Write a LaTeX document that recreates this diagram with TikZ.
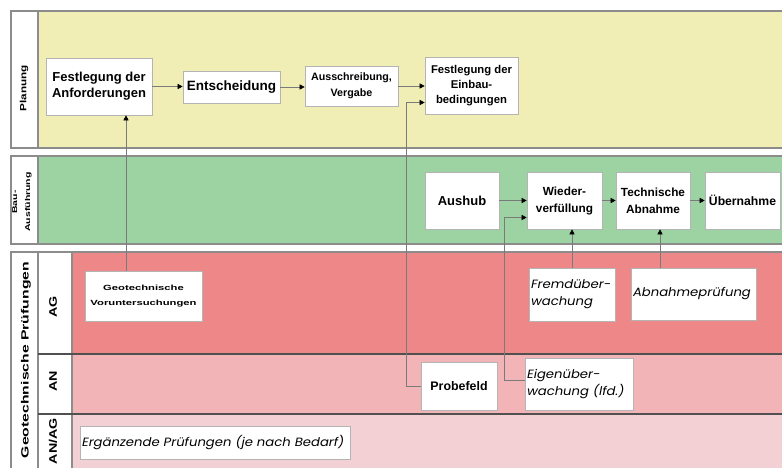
\documentclass[tikz,border=0pt]{standalone}
\usepackage{fontspec}
\setmainfont{Liberation Sans}
\newfontfamily\gothic[FakeStretch=1.1]{Poppins}
\newfontfamily\widesf[FakeStretch=1.5]{Liberation Sans}
\newfontfamily\midsf[FakeStretch=1.3]{Liberation Sans}
\usetikzlibrary{arrows.meta,calc}
\definecolor{plan}{HTML}{F0EEB4}
\definecolor{bau}{HTML}{9DD3A3}
\definecolor{agc}{HTML}{EE8787}
\definecolor{anc}{HTML}{F2B4B6}
\definecolor{anagc}{HTML}{F3D0D4}
\definecolor{bandline}{HTML}{8C8C8C}
\definecolor{rowline}{HTML}{505050}
\definecolor{boxline}{HTML}{B4B4B4}
\definecolor{connc}{HTML}{7A7A7A}
\tikzset{
  box/.style={draw=boxline, line width=0.6pt, fill=white, inner sep=1pt, align=center, anchor=center},
  bbox/.style={box, font=\bfseries},
  itbox/.style={box, align=left, inner xsep=2pt},
  conn/.style={draw=connc, line width=0.5pt, -{Triangle[length=5pt,width=5pt,color=black]}},
  band/.style={draw=bandline, line width=1.4pt},
  rowsep/.style={draw=rowline, line width=1.4pt},
  lbl/.style={rotate=90, align=center, text=black, inner sep=0pt}
}
\newcommand{\fsz}[2]{\fontsize{#1}{#2}\selectfont}
\begin{document}
\begin{tikzpicture}[x=1pt,y=-1pt]
\useasboundingbox (0,0) rectangle (782,468);
\clip (0,0) rectangle (782,468);
% Planung band
\fill[plan] (38,11) rectangle (790,148);
\fill[white] (11,11) rectangle (38,148);
\draw[band] (790,11) -- (11,11) -- (11,148) -- (790,148);
\draw[band] (38,11) -- (38,148);
% Bau band
\fill[bau] (38,156) rectangle (790,244);
\fill[white] (11,156) rectangle (38,244);
\draw[band] (790,156) -- (11,156) -- (11,244) -- (790,244);
\draw[band] (38,156) -- (38,244);
% Geotech band
\fill[white] (11,252) rectangle (72,475);
\fill[agc] (72,252) rectangle (790,354);
\fill[anc] (72,354) rectangle (790,414);
\fill[anagc] (72,414) rectangle (790,475);
\draw[band] (790,252) -- (11,252) -- (11,475);
\draw[band] (38,252) -- (38,475);
\draw[band] (72,252) -- (72,475);
\draw[rowsep] (38,354) -- (790,354);
\draw[rowsep] (38,414) -- (790,414);
% lane labels
\node[lbl, font=\midsf\bfseries\fsz{9}{10}] (lplan) at (24,88) {Planung};
\node[lbl, font=\widesf\bfseries\fsz{7}{13}] (lbau) at (22,202) {Bau-\\Ausführung};
\node[lbl, font=\widesf\bfseries\fsz{10.5}{12}] (lgeo) at (26,360) {Geotechnische Prüfungen};
\node[lbl, font=\midsf\bfseries\fsz{11}{12}] (lag) at (53,307) {AG};
\node[lbl, font=\midsf\bfseries\fsz{11}{12}] (lan) at (53,381) {AN};
\node[lbl, font=\midsf\bfseries\fsz{11}{12}] (lanag) at (53,441) {AN/AG};
% boxes
\node[bbox, minimum width=106pt, minimum height=57pt, font=\bfseries\fsz{13}{16}] (fa) at (99,86.5) {Festlegung der\\Anforderungen};
\node[bbox, minimum width=97pt, minimum height=32pt, font=\bfseries\fsz{13.5}{16}] (ent) at (231.5,87) {Entscheidung};
\node[bbox, minimum width=93pt, minimum height=40pt, font=\bfseries\fsz{10.7}{16}] (aus) at (351.5,86) {Ausschreibung,\\Vergabe};
\node[bbox, minimum width=93pt, minimum height=57pt, font=\bfseries\fsz{11.3}{15}] (fe) at (471.5,85.5) {Festlegung der\\Einbau-\\bedingungen};
\node[bbox, minimum width=74pt, minimum height=57pt, font=\bfseries\fsz{13}{15}] (aushub) at (462,200.5) {Aushub};
\node[bbox, minimum width=75pt, minimum height=57pt, font=\bfseries\fsz{11.8}{17}] (wv) at (564.5,200.5) {Wieder-\\verfüllung};
\node[bbox, minimum width=74pt, minimum height=57pt, font=\bfseries\fsz{11.8}{17}] (ta) at (653,200.5) {Technische\\Abnahme};
\node[bbox, minimum width=75pt, minimum height=57pt, font=\bfseries\fsz{12.2}{15}] (ub) at (742.5,200.5) {Übernahme};
\node[bbox, minimum width=117pt, minimum height=50pt, font=\widesf\bfseries\fsz{7.5}{15}] (gv) at (143.5,296) {Geotechnische\\Voruntersuchungen};
\node[itbox, text width=82pt, minimum height=53pt, font=\gothic\itshape\fsz{12}{17}] (fu) at (572,294.5) {Fremdüber-\\wachung};
\node[itbox, text width=121pt, minimum height=52pt, font=\gothic\itshape\fsz{12}{17}] (ap) at (693.5,294) {Abnahmeprüfung};
\node[bbox, minimum width=76pt, minimum height=48pt, font=\bfseries\fsz{12.4}{15}] (pf) at (459,386) {Probefeld};
\node[itbox, text width=104pt, minimum height=52pt, font=\gothic\itshape\fsz{12}{17}] (eu) at (579,384) {Eigenüber-\\wachung (lfd.)};
\node[itbox, text width=266pt, minimum height=33pt, font=\gothic\itshape\fsz{12}{16}] (ep) at (215,442.5) {Ergänzende Prüfungen (je nach Bedarf)};
% connectors
\draw[conn] (fa.east) -- (fa.east -| ent.west);
\draw[conn] (ent.east) -- (ent.east -| aus.west);
\draw[conn] (aus.east) -- (aus.east -| fe.west);
\draw[conn] (pf.west) -- ++(-14,0) |- ([yshift=-17pt]fe.west);
\draw[conn] (aushub.east) -- (aushub.east -| wv.west);
\draw[conn] ([yshift=4pt]eu.west) -- ++(-20,0) |- ([yshift=-17pt]wv.west);
\draw[conn] (wv.east) -- (wv.east -| ta.west);
\draw[conn] (ta.east) -- (ta.east -| ub.west);
\draw[conn] (fu.north) -- (fu.north |- wv.south);
\draw[conn] ([xshift=7pt]ta.south |- ap.north) -- ([xshift=7pt]ta.south);
\draw[conn] ([xshift=27pt]fa.south |- gv.north) -- ([xshift=27pt]fa.south);
\end{tikzpicture}
\end{document}
